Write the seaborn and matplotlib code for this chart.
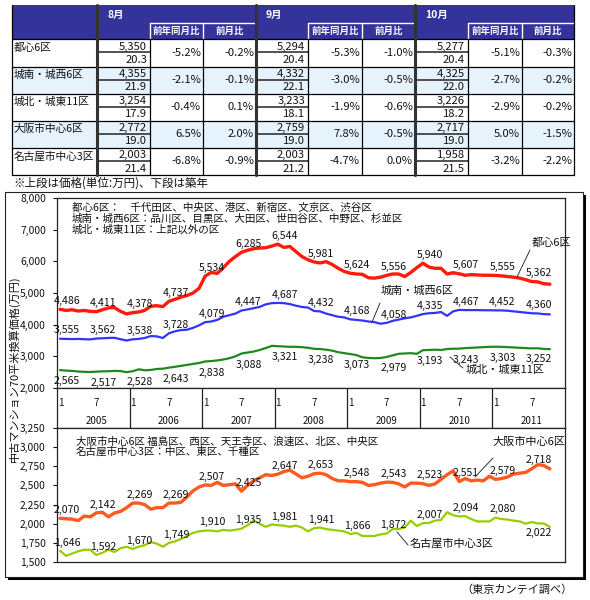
import numpy as np
import pandas as pd
import matplotlib
matplotlib.use('Agg')
import matplotlib.pyplot as plt
import seaborn as sns
from matplotlib.patches import Rectangle
from matplotlib.ticker import FuncFormatter

sns.set_style('white')
plt.rcParams['font.family'] = ['Noto Sans CJK JP', 'DejaVu Sans']
plt.rcParams['axes.unicode_minus'] = False

# ---------------- data ----------------
start_month = '2005-01'
years = ['2005', '2006', '2007', '2008', '2009', '2010', '2011']

tokyo6 = [4486, 4450, 4470, 4430, 4450, 4420, 4411, 4470, 4530, 4540, 4420, 4340,
          4378, 4400, 4450, 4580, 4600, 4570, 4737, 4800, 4870, 4920, 5000, 5150,
          5534, 5650, 5620, 5800, 6000, 6150, 6285, 6350, 6400, 6420, 6430, 6480,
          6544, 6440, 6470, 6310, 6150, 6050, 5981, 5950, 5990, 5900, 5780, 5680,
          5624, 5600, 5590, 5480, 5470, 5500, 5556, 5600, 5600, 5520, 5650, 5800,
          5940, 5820, 5780, 5780, 5600, 5640, 5607, 5560, 5580, 5570, 5560, 5560,
          5555, 5540, 5520, 5500, 5470, 5420, 5362, 5350, 5294, 5277]
jonan6 = [3555, 3550, 3545, 3550, 3540, 3535, 3562, 3570, 3580, 3585, 3540, 3500,
          3538, 3550, 3580, 3640, 3630, 3580, 3728, 3790, 3830, 3840, 3900, 3980,
          4079, 4100, 4150, 4250, 4300, 4350, 4447, 4480, 4520, 4560, 4640, 4680,
          4687, 4680, 4650, 4600, 4560, 4540, 4432, 4420, 4350, 4300, 4250, 4230,
          4168, 4150, 4130, 4100, 4080, 4030, 4058, 4120, 4160, 4200, 4230, 4280,
          4335, 4360, 4370, 4400, 4280, 4420, 4467, 4460, 4460, 4460, 4455, 4455,
          4452, 4450, 4440, 4420, 4400, 4380, 4360, 4355, 4332, 4325]
johoku11 = [2565, 2550, 2540, 2520, 2510, 2505, 2517, 2525, 2530, 2540, 2535, 2500,
            2528, 2590, 2560, 2570, 2600, 2610, 2643, 2670, 2700, 2730, 2760, 2790,
            2838, 2850, 2870, 2900, 2940, 3000, 3088, 3120, 3150, 3200, 3260, 3330,
            3321, 3310, 3300, 3300, 3290, 3270, 3238, 3230, 3210, 3180, 3130, 3100,
            3073, 3040, 2970, 2950, 2940, 2950, 2979, 3030, 3080, 3090, 3100, 3080,
            3193, 3200, 3210, 3200, 3230, 3240, 3243, 3260, 3270, 3280, 3290, 3300,
            3303, 3300, 3290, 3280, 3270, 3260, 3252, 3254, 3233, 3226]
osaka6 = [2070, 2065, 2060, 2040, 2100, 2090, 2142, 2150, 2090, 2140, 2160, 2210,
          2269, 2270, 2250, 2190, 2210, 2210, 2269, 2270, 2280, 2350, 2430, 2480,
          2507, 2500, 2540, 2500, 2510, 2520, 2425, 2500, 2560, 2600, 2640, 2630,
          2647, 2680, 2700, 2650, 2600, 2620, 2653, 2660, 2640, 2590, 2560, 2560,
          2548, 2550, 2540, 2500, 2510, 2530, 2543, 2540, 2520, 2480, 2530, 2530,
          2523, 2500, 2520, 2580, 2640, 2690, 2551, 2590, 2560, 2570, 2560, 2620,
          2579, 2590, 2610, 2650, 2660, 2670, 2718, 2772, 2759, 2717]
nagoya3 = [1646, 1580, 1610, 1640, 1660, 1660, 1592, 1620, 1660, 1630, 1680, 1700,
           1670, 1700, 1720, 1760, 1740, 1700, 1749, 1770, 1800, 1840, 1880, 1900,
           1910, 1910, 1900, 1920, 1910, 1920, 1935, 1980, 2040, 2000, 1960, 1990,
           1981, 1975, 1960, 1975, 1950, 1900, 1941, 1950, 1930, 1920, 1910, 1900,
           1866, 1880, 1840, 1840, 1840, 1860, 1872, 1930, 1930, 1950, 2040, 1970,
           2007, 2010, 2040, 2050, 2150, 2110, 2094, 2100, 2060, 2030, 2030, 2030,
           2080, 2060, 2055, 2040, 2030, 2000, 2022, 2003, 2003, 1958]

# table
areas = ['都心6区', '城南・城西6区', '城北・城東11区', '大阪市中心6区', '名古屋市中心3区']
tbl_months = ['8月', '9月', '10月']
sub_heads = ['前年同月比', '前月比']
price_aug = [5350, 4355, 3254, 2772, 2003]
age_aug = [20.3, 21.9, 17.9, 19.0, 21.4]
yoy_aug = [-5.2, -2.1, -0.4, 6.5, -6.8]
mom_aug = [-0.2, -0.1, 0.1, 2.0, -0.9]
price_sep = [5294, 4332, 3233, 2759, 2003]
age_sep = [20.4, 22.1, 18.1, 19.0, 21.2]
yoy_sep = [-5.3, -3.0, -1.9, 7.8, -4.7]
mom_sep = [-1.0, -0.5, -0.6, -0.5, 0.0]
price_oct = [5277, 4325, 3226, 2717, 1958]
age_oct = [20.4, 22.0, 18.2, 19.0, 21.5]
yoy_oct = [-5.1, -2.7, -2.9, 5.0, -3.2]
mom_oct = [-0.3, -0.2, -0.2, -1.5, -2.2]

note_text = '※上段は価格(単位:万円)、下段は築年'
ylabel_text = '中古マンション70平米換算価格(万円)'
source_text = '（東京カンテイ調べ）'
legend_up = ['都心6区：　千代田区、中央区、港区、新宿区、文京区、渋谷区',
             '城南・城西6区：品川区、目黒区、大田区、世田谷区、中野区、杉並区',
             '城北・城東11区：上記以外の区']
legend_low = ['大阪市中心6区 福島区、西区、天王寺区、浪速区、北区、中央区',
              '名古屋市中心3区：中区、東区、千種区']

# ---------------- figure ----------------
W, H = 590, 600
fig = plt.figure(figsize=(W / 100, H / 100), dpi=100)
fig.patch.set_facecolor('white')

def fx(px):
    return px / W

def fy(py):
    return 1 - py / H

bg = fig.add_axes([0, 0, 1, 1], zorder=0)
bg.set_xlim(0, W); bg.set_ylim(H, 0); bg.axis('off')

# ---- table ----
col_x = [12, 97, 150, 203, 256, 308, 362, 415, 468, 522, 574]
row_y = [39.3, 66.5, 93.5, 120.7, 147.7, 175]
head_top, sub_top = 5, 23
navy = '#333399'
bg.add_patch(Rectangle((col_x[0], head_top), col_x[-1] - col_x[0], row_y[0] - head_top,
                       facecolor=navy, edgecolor='none'))
for r in range(5):
    fc = '#E6F3FD' if r in (1, 3) else 'white'
    bg.add_patch(Rectangle((col_x[0], row_y[r]), col_x[-1] - col_x[0], row_y[r + 1] - row_y[r],
                           facecolor=fc, edgecolor='none'))
# header text
for g, m in enumerate(tbl_months):
    gx = col_x[1 + 3 * g]
    bg.text(gx + 10, 15, m, color='white', fontsize=7.5, fontweight='bold', va='center', ha='left')
    x1, x2, x3 = col_x[2 + 3 * g], col_x[3 + 3 * g], col_x[4 + 3 * g]
    bg.plot([x1, x3], [sub_top, sub_top], color='white', lw=1)
    bg.plot([x1, x1], [sub_top, row_y[0]], color='white', lw=1)
    bg.plot([x2, x2], [sub_top, row_y[0]], color='white', lw=1)
    bg.text((x1 + x2) / 2, 31, sub_heads[0], color='white', fontsize=6.8, fontweight='bold',
            ha='center', va='center')
    bg.text((x2 + x3) / 2, 31, sub_heads[1], color='white', fontsize=6.8, fontweight='bold',
            ha='center', va='center')
# rows
groups = [(price_aug, age_aug, yoy_aug, mom_aug),
          (price_sep, age_sep, yoy_sep, mom_sep),
          (price_oct, age_oct, yoy_oct, mom_oct)]
for r, name in enumerate(areas):
    y0, y1 = row_y[r], row_y[r + 1]
    ym = (y0 + y1) / 2
    bg.text(col_x[0] + 2, y0 + 8.5, name, fontsize=7.7, va='center', ha='left', color='#111111')
    for g, (pr, ag, yo, mo) in enumerate(groups):
        cv = col_x[1 + 3 * g]
        cr = col_x[2 + 3 * g]
        bg.plot([cv + 1, cr], [ym - 0.5, ym - 0.5], color='#333333', lw=1.2)
        bg.text(cr - 3, y0 + 7.5, f'{pr[r]:,}', fontsize=8.1, ha='right', va='center',
                color='#111111')
        bg.text(cr - 3, y1 - 6.5, f'{ag[r]:.1f}', fontsize=8.1, ha='right', va='center',
                color='#111111')
        bg.text(col_x[3 + 3 * g] - 2, ym, f'{yo[r]:.1f}%', fontsize=8.1, ha='right', va='center',
                color='#111111')
        bg.text(col_x[4 + 3 * g] - 2, ym, f'{mo[r]:.1f}%', fontsize=8.1, ha='right', va='center',
                color='#111111')
for y in row_y:
    bg.plot([col_x[0], col_x[-1]], [y, y], color='black', lw=0.9)
for i, x in enumerate(col_x):
    if i in (1, 4, 7):
        bg.plot([x, x], [head_top, row_y[-1]], color='#333333', lw=2.2)
    elif i in (0, 10):
        bg.plot([x, x], [head_top, row_y[-1]], color='black', lw=0.9)
    else:
        bg.plot([x, x], [row_y[0], row_y[-1]], color='black', lw=0.9)
bg.text(13, 183, note_text, fontsize=8.3, va='center', ha='left', color='#111111')

# ---- chart frame with shadow ----
bg.add_patch(Rectangle((8, 195), 578, 385, facecolor='black', edgecolor='none'))
bg.add_patch(Rectangle((5, 192), 578, 385, facecolor='white', edgecolor='#222222', lw=0.8))
bg.text(573, 590, source_text, fontsize=8, ha='right', va='center', color='#111111')
bg.text(14, 369, ylabel_text, fontsize=8.0, rotation=90, ha='center', va='center',
        color='#111111')

# ---- axes ----
PL, PR = 57, 565
UP_T, UP_B = 198, 388
BAND_B = 428
LOW_B = 562
ax_up = fig.add_axes([fx(PL), fy(UP_B), fx(PR - PL), (UP_B - UP_T) / H], zorder=1)
ax_band = fig.add_axes([fx(PL), fy(BAND_B), fx(PR - PL), (BAND_B - UP_B) / H], zorder=1)
ax_low = fig.add_axes([fx(PL), fy(LOW_B), fx(PR - PL), (LOW_B - BAND_B) / H], zorder=1)

n = len(tokyo6)
month_idx = np.arange(n)
label_idx = list(range(0, n, 6))

up_df = pd.DataFrame({'m': np.tile(month_idx, 3),
                      'v': tokyo6 + jonan6 + johoku11,
                      's': ['都心6区'] * n + ['城南・城西6区'] * n + ['城北・城東11区'] * n})
low_df = pd.DataFrame({'m': np.tile(month_idx, 2),
                       'v': osaka6 + nagoya3,
                       's': ['大阪市中心6区'] * n + ['名古屋市中心3区'] * n})

series_style = {
    '都心6区': ('#FF1A0A', 2.4, 6),
    '城南・城西6区': ('#3333FF', 1.6, 6),
    '城北・城東11区': ('#1E8A1E', 1.6, -8),
    '大阪市中心6区': ('#FF5A1E', 2.4, 6),
    '名古屋市中心3区': ('#99CC00', 1.6, 6),
}

def draw(ax, df):
    for s in df['s'].unique():
        col, lw, dy = series_style[s]
        sub = df[df['s'] == s]
        sns.lineplot(data=sub, x='m', y='v', ax=ax, color=col, linewidth=lw, legend=False)
        vals = sub['v'].to_numpy()
        for k in label_idx:
            ddy = dy
            if s == '名古屋市中心3区' and k == label_idx[-1]:
                ddy = -8
            ax.annotate(f'{vals[k]:,}', (k, vals[k]), xytext=(5, ddy), textcoords='offset points',
                        ha='center', va='center', fontsize=7.6, color='#111111',
                        annotation_clip=False)

draw(ax_up, up_df)
draw(ax_low, low_df)

fmt = FuncFormatter(lambda v, p: f'{int(v):,}')
for ax, lo, hi, step in [(ax_up, 2000, 8000, 1000), (ax_low, 1500, 3250, 250)]:
    ax.set_xlim(-0.5, 83.5)
    ax.set_ylim(lo, hi)
    ax.set_yticks(np.arange(lo, hi + 1, step))
    ax.yaxis.set_major_formatter(fmt)
    ax.set_xticks([])
    ax.set_xlabel('')
    ax.set_ylabel('')
    ax.tick_params(axis='y', left=True, length=3, width=0.8, labelsize=7.4, pad=5,
                   colors='#111111')
    for sp in ax.spines.values():
        sp.set_color('#222222'); sp.set_linewidth(0.9)
    ax.set_facecolor('white')

ax_band.set_xlim(-0.5, 83.5)
ax_band.set_ylim(0, 1)
ax_band.set_xticks([]); ax_band.set_yticks([])
for sp in ax_band.spines.values():
    sp.set_color('#222222'); sp.set_linewidth(0.9)
for k, yr in enumerate(years):
    if k > 0:
        ax_band.axvline(12 * k - 0.5, color='#222222', lw=0.9)
    ax_band.text(12 * k - 0.4, 0.62, '1', fontsize=7, ha='left', va='center', color='#111111')
    ax_band.text(12 * k + 6, 0.62, '7', fontsize=7, ha='center', va='center', color='#111111')
    ax_band.text(12 * k + 6, 0.17, yr, fontsize=7, ha='center', va='center', color='#111111')

# ---- overlay texts, leader lines ----
fg = fig.add_axes([0, 0, 1, 1], zorder=3)
fg.set_xlim(0, W); fg.set_ylim(H, 0); fg.axis('off'); fg.patch.set_alpha(0)
for i, t in enumerate(legend_up):
    fg.text(72, 208 + 10.8 * i, t, fontsize=7.6, ha='left', va='center', color='#111111')
for i, t in enumerate(legend_low):
    fg.text(76, 442 + 9.8 * i, t, fontsize=7.6, ha='left', va='center', color='#111111')

names = [('都心6区', 532, 243, (530, 250), (517, 277)),
         ('城南・城西6区', 381, 291, (380, 303), (372, 322)),
         ('城北・城東11区', 466, 370, (450, 357), (463, 368)),
         ('大阪市中心6区', 492, 442, (493, 458), (475, 477)),
         ('名古屋市中心3区', 410, 543, (397, 532), (408, 545))]
for t, tx, ty, p1, p2 in names:
    fg.text(tx, ty, t, fontsize=8, ha='left', va='center', color='#111111')
    fg.plot([p1[0], p2[0]], [p1[1], p2[1]], color='#333333', lw=0.7)

fig.savefig('out.png', dpi=100, facecolor='white')
